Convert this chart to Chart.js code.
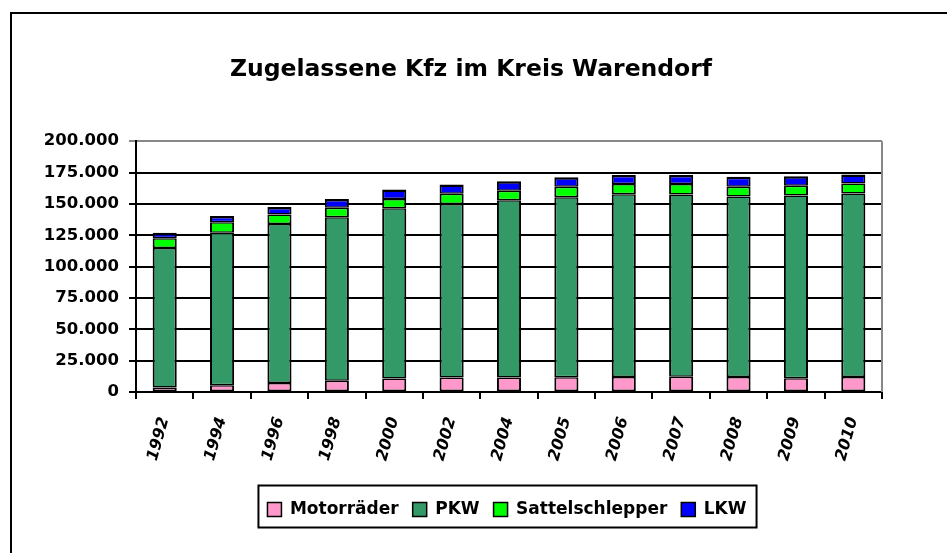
<!DOCTYPE html>
<html>
<head>
<meta charset="utf-8">
<script src="https://cdn.jsdelivr.net/npm/chart.js@4/dist/chart.umd.min.js"></script>
<style>
  html, body { margin: 0; padding: 0; background: #fff; }
  #wrap { width: 947px; height: 553px; }
</style>
</head>
<body>
<div id="wrap"><canvas id="chartKfz"></canvas></div>
<script>
const jahre = ['1992', '1994', '1996', '1998', '2000', '2002', '2004', '2005', '2006', '2007', '2008', '2009', '2010'];
const motorraeder = [3500, 5300, 7200, 9000, 10700, 11500, 11500, 11700, 12000, 12200, 12000, 11000, 12000];
const pkw = [111300, 121700, 126800, 130400, 135800, 138500, 141500, 143700, 145600, 145300, 144000, 145700, 146300];
const sattelschlepper = [7800, 8300, 7500, 7600, 7500, 8000, 7400, 8200, 8200, 8300, 7600, 7700, 8000];
const lkw = [4400, 5100, 6100, 7000, 7500, 7500, 7600, 7700, 7200, 7200, 8000, 7600, 7200];

const schrift = "'DejaVu Sans', sans-serif";

// Titel und Legende etwas nach rechts schieben (wie im Original)
const verschieben = {
    id: 'verschieben',
    afterLayout(chart) {
        const lg = chart.legend;
        lg.left += 56;
        lg.right += 56;
        const t = chart.titleBlock;
        t.left += 20;
        t.right += 20;
    }
};

// Rahmen um Diagramm, Zeichenfläche und Legende
const rahmenPlugin = {
    id: 'rahmen',
    afterDraw(chart) {
        const ctx = chart.ctx;
        const a = chart.chartArea;
        ctx.save();
        // äußerer Rahmen
        ctx.strokeStyle = '#000';
        ctx.lineWidth = 2;
        ctx.beginPath();
        ctx.moveTo(11, chart.height);
        ctx.lineTo(11, 13);
        ctx.lineTo(chart.width, 13);
        ctx.stroke();
        // rechte Kante der Zeichenfläche (grau)
        ctx.strokeStyle = '#888';
        ctx.beginPath();
        ctx.moveTo(a.right, a.top);
        ctx.lineTo(a.right, a.bottom);
        ctx.stroke();
        // Legendenkasten
        const boxes = chart.legend.legendHitBoxes;
        if (boxes.length) {
            const x1 = boxes[0].left - 9;
            const last = boxes[boxes.length - 1];
            const x2 = last.left + last.width + 10;
            const mitte = boxes[0].top + boxes[0].height / 2;
            ctx.strokeStyle = '#000';
            ctx.lineWidth = 2;
            ctx.strokeRect(x1, mitte - 24, x2 - x1, 42);
        }
        ctx.restore();
    }
};

// Trennlinien zwischen den Stapelteilen ca. 3px, oben etwas kräftiger
const rand = { left: 2, right: 2, top: 1.5, bottom: 1.5 };

new Chart(document.getElementById('chartKfz'), {
    type: 'bar',
    data: {
        labels: jahre,
        datasets: [
            { label: 'Motorräder', data: motorraeder, backgroundColor: '#FF99CC', borderWidth: rand },
            { label: 'PKW', data: pkw, backgroundColor: '#339966', borderWidth: rand },
            { label: 'Sattelschlepper', data: sattelschlepper, backgroundColor: '#00FF00', borderWidth: rand },
            { label: 'LKW', data: lkw, backgroundColor: '#0000FF', borderWidth: { left: 2, right: 2, top: 2.5, bottom: 1.5 } }
        ].map(ds => Object.assign(ds, {
            borderColor: '#000',
            borderSkipped: false,
            inflateAmount: 0,
            categoryPercentage: 1,
            barPercentage: 0.42
        }))
    },
    options: {
        responsive: true,
        maintainAspectRatio: false,
        animation: false,
        layout: { padding: { left: 20, right: 65, top: 40, bottom: 25 } },
        plugins: {
            title: {
                display: true,
                text: 'Zugelassene Kfz im Kreis Warendorf',
                color: '#000',
                font: { family: schrift, size: 23.5, weight: 'bold' },
                padding: { top: 16, bottom: 57 }
            },
            legend: {
                position: 'bottom',
                labels: {
                    color: '#000',
                    font: { family: schrift, size: 17, weight: 'bold' },
                    boxWidth: 14,
                    boxHeight: 14,
                    padding: 14,
                    generateLabels(chart) {
                        return chart.data.datasets.map((ds, i) => ({
                            text: ds.label,
                            fillStyle: ds.backgroundColor,
                            strokeStyle: '#000',
                            lineWidth: 1.5,
                            datasetIndex: i
                        }));
                    }
                }
            },
            tooltip: { enabled: false }
        },
        scales: {
            x: {
                stacked: true,
                afterFit(scale) { scale.height = 95; },
                grid: {
                    offset: true,
                    drawOnChartArea: false,
                    color: '#000',
                    lineWidth: 2,
                    tickLength: 7
                },
                border: { color: '#000', width: 2 },
                ticks: {
                    color: '#000',
                    font: { family: schrift, size: 16, weight: 'bold', style: 'italic' },
                    minRotation: 74,
                    maxRotation: 74,
                    autoSkip: false,
                    padding: 16
                }
            },
            y: {
                stacked: true,
                min: 0,
                max: 200000,
                afterFit(scale) { scale.width = 116; },
                grid: {
                    color: ctx => (ctx.tick && ctx.tick.value === 200000) ? '#888' : '#000',
                    lineWidth: 2,
                    tickLength: 7
                },
                border: { color: '#000', width: 2 },
                ticks: {
                    stepSize: 25000,
                    color: '#000',
                    padding: 10,
                    font: { family: schrift, size: 16.5, weight: 'bold' },
                    callback: v => v.toLocaleString('de-DE')
                }
            }
        }
    },
    plugins: [verschieben, rahmenPlugin]
});
</script>
</body>
</html>
